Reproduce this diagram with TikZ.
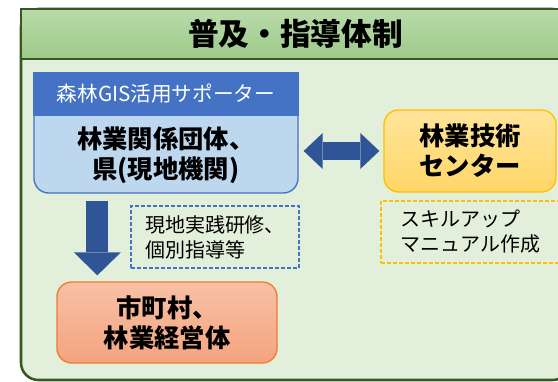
\documentclass[tikz,border=0pt]{standalone}
\usepackage{fontspec}
\setmainfont{Noto Sans CJK JP}
\usetikzlibrary{positioning,calc,arrows.meta}
\definecolor{frameGreen}{HTML}{385723}
\definecolor{paleGreen}{HTML}{E2EFDA}
\definecolor{bandTop}{HTML}{B9DBAB}
\definecolor{bandBot}{HTML}{9DCA88}
\definecolor{hdrBlue}{HTML}{4472C4}
\definecolor{lightBlue}{HTML}{BDD7EE}
\definecolor{arrowBlue}{HTML}{2F5597}
\definecolor{techTop}{HTML}{FFE59B}
\definecolor{techBot}{HTML}{FFD667}
\definecolor{techLine}{HTML}{FFC000}
\definecolor{cityTop}{HTML}{F8C0A6}
\definecolor{cityBot}{HTML}{F4A47F}
\definecolor{cityLine}{HTML}{ED7D31}

\begin{document}
\begin{tikzpicture}[x=0.75pt,y=-0.75pt,
  bigtext/.style={font=\fontsize{19}{22.5}\selectfont\bfseries, align=center, inner sep=0pt},
  smalltext/.style={font=\fontsize{15}{18.75}\selectfont, align=left, inner sep=0pt},
  dashbox/.style={dash pattern=on 3pt off 1.5pt, line width=0.8pt, minimum height=46.5pt},
  roundbox/.style={line width=1pt, rounded corners=11pt},
  downarrow/.style={arrowBlue, line width=16.5pt,
    -{Triangle[length=17.25pt,width=35.25pt,line width=0pt]}},
  bothway/.style={arrowBlue, line width=13.5pt,
    {Triangle[length=14.25pt,width=27pt,line width=0pt]}-{Triangle[length=14.25pt,width=27pt,line width=0pt]}}]
\useasboundingbox (0,0) rectangle (558,382);
\clip (0,0) rectangle (558,382);

% outer frame and title band
\draw[frameGreen, line width=1.9pt, fill=paleGreen, rounded corners=13pt] (21,9) rectangle (570,380);
\node[draw=frameGreen, line width=1.9pt, top color=bandTop, bottom color=bandBot,
  minimum width=411.75pt, minimum height=37.5pt, inner sep=0pt,
  font=\fontsize{23}{27}\selectfont\bfseries] (title) at (295.5,34) {普及・指導体制};

% prefecture side
\node[draw=hdrBlue, fill=lightBlue, roundbox, minimum width=198pt, minimum height=90pt, inner sep=0pt] (groups) at (166,133) {};
\node[draw=hdrBlue, fill=hdrBlue, line width=1pt, text=white, minimum width=198pt, minimum height=31.5pt,
  inner sep=0pt, anchor=north, font=\fontsize{15.5}{18}\selectfont] (gis) at (groups.north) {森林GIS活用サポーター};
\node[bigtext, below=0pt of gis, minimum height=58.5pt] (groupstxt) {林業関係団体、\\県(現地機関)};

\node[draw=techLine, roundbox, top color=techTop, bottom color=techBot,
  minimum width=129pt, minimum height=61.5pt, bigtext] (tech) at (470,151) {林業技術\\センター};
\node[draw=cityLine, roundbox, top color=cityTop, bottom color=cityBot,
  minimum width=165pt, minimum height=60.75pt, bigtext] (city) at (167,322.5) {市町村、\\林業経営体};

% dashed notes
\node[draw=hdrBlue, dashbox, minimum width=126pt, smalltext] (training) at (215,237) {現地実践研修、\\個別指導等};
\node[draw=techLine, dashbox, minimum width=134.25pt, smalltext] (manual) at (470.5,232) {スキルアップ\\マニュアル作成};

% arrows
\draw[downarrow] ($(groups.south west)+(64,7)$) -- ($(city.north west)+(41,-6)$);
\draw[bothway] ([xshift=3.75pt]groups.east |- tech.west) -- ([xshift=-3pt]tech.west);
\end{tikzpicture}
\end{document}
